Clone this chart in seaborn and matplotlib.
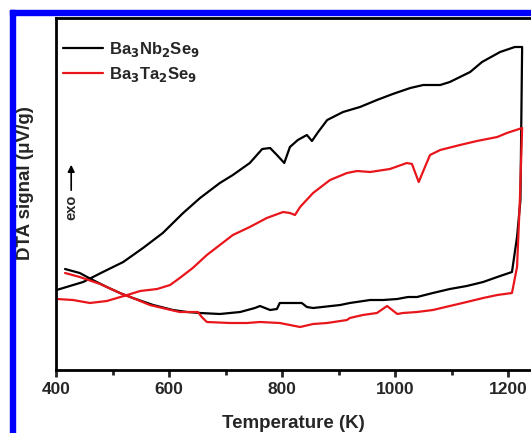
import numpy as np
import pandas as pd
import matplotlib
matplotlib.use("Agg")
import matplotlib.pyplot as plt
import seaborn as sns
from matplotlib.patches import Rectangle
from matplotlib.ticker import MultipleLocator

sns.set_style("white")
plt.rcParams['font.family'] = ['Liberation Sans', 'DejaVu Sans']
plt.rcParams['font.weight'] = 'bold'

# Ba3Nb2Se9: heating then cooling loop (temperature K, DTA signal arb.)
nb_T = [401, 448, 483, 519, 554, 589, 625, 655, 690, 713, 743, 765, 779, 791, 804, 814,
        828, 844, 853, 864, 880, 908, 938, 968, 996, 1027, 1050, 1080, 1097, 1133, 1154,
        1186, 1212, 1225,
        1222, 1216, 1207,
        1181, 1156, 1127, 1097, 1067, 1039, 1030, 1023, 1004, 979, 956, 920, 903, 855,
        844, 835, 796, 791, 779, 761, 752, 726, 690, 655, 632, 607, 572, 536, 513, 490,
        465, 442, 416]
nb_S = [80, 88, 98, 108, 122, 137, 157, 172, 187, 195, 207, 221, 222, 215, 207, 223,
        230, 235, 229, 238, 250, 258, 263, 270, 276, 282, 285, 285, 288, 298, 308,
        318, 323, 323,
        170, 133, 98,
        93, 88, 84, 81, 77, 73, 73, 73, 71, 70, 70, 67, 65, 62,
        63, 67, 67, 61, 60, 64, 62, 58, 56, 57, 58, 60, 65, 72, 77, 83,
        90, 97, 101]

# Ba3Ta2Se9
ta_T = [402, 430, 460, 490, 508, 526, 549, 579, 602, 619, 642, 667, 690, 713, 743, 773,
        802, 814, 823, 832, 855, 885, 915, 933, 956, 991, 1021, 1030, 1042, 1053, 1062,
        1080, 1115, 1145, 1181, 1198, 1225,
        1221, 1216, 1207,
        1181, 1156, 1127, 1097, 1067, 1039, 1014, 1004, 986, 968, 943, 920, 915, 880,
        855, 832, 796, 761, 738, 708, 667, 658, 651, 619, 596, 566, 536, 513, 478, 442, 416]
ta_S = [71, 70, 67, 69, 72, 75, 79, 81, 85, 92, 102, 115, 125, 135, 143, 152,
        158, 157, 155, 163, 177, 190, 197, 199, 198, 201, 207, 206, 188, 203, 215,
        220, 225, 229, 233, 237, 242,
        170, 103, 77,
        75, 72, 68, 64, 60, 58, 57, 56, 64, 57, 55, 52, 50, 47,
        46, 43, 47, 48, 47, 47, 48, 53, 58, 58, 61, 65, 72, 77, 86, 93, 97]

labels = [r"Ba$_\mathbf{3}$Nb$_\mathbf{2}$Se$_\mathbf{9}$",
          r"Ba$_\mathbf{3}$Ta$_\mathbf{2}$Se$_\mathbf{9}$"]
colors = ["#000000", "#e8161b"]

df_nb = pd.DataFrame({"T": nb_T, "S": nb_S})
df_ta = pd.DataFrame({"T": ta_T, "S": ta_S})

fig = plt.figure(figsize=(5.31, 4.33), dpi=100)
ax = fig.add_axes([56/531, 1 - 370/433, 1 - 56/531, (370 - 18)/433])

sns.lineplot(data=df_nb, x="T", y="S", sort=False, estimator=None, color=colors[0],
             lw=1.6, ax=ax, label=labels[0])
sns.lineplot(data=df_ta, x="T", y="S", sort=False, estimator=None, color=colors[1],
             lw=1.6, ax=ax, label=labels[1])

ax.set_xlim(400, 1240.7)
ax.set_ylim(0, 352)
ax.set_yticks([])
ax.xaxis.set_major_locator(MultipleLocator(200))
ax.xaxis.set_minor_locator(MultipleLocator(100))
ax.tick_params(axis='x', which='major', direction='out', length=5, width=2,
               labelsize=12.5, pad=4, bottom=True)
ax.tick_params(axis='x', which='minor', direction='out', length=3.5, width=2, bottom=True)
for lab in ax.get_xticklabels():
    lab.set_fontweight('bold')

for side in ['left', 'bottom', 'top']:
    ax.spines[side].set_visible(True)
    ax.spines[side].set_linewidth(2)
    ax.spines[side].set_color('black')
ax.spines['right'].set_visible(False)

ax.set_xlabel("Temperature (K)", fontsize=13.5, fontweight='bold', labelpad=12.5)
ax.set_ylabel("DTA signal (\u03bcV/g)", fontsize=13.5, fontweight='bold')
ax.yaxis.set_label_coords(-0.046, 0.53)

leg = ax.legend(loc='upper left', frameon=False, fontsize=12, handlelength=2.4,
                handletextpad=0.4, borderaxespad=0.0, labelspacing=0.35,
                bbox_to_anchor=(0.0, 0.957))
for t in leg.get_texts():
    t.set_fontweight('bold')

# exo arrow
ax.annotate("", xy=(0.032, (370 - 162) / 352), xytext=(0.032, (370 - 193) / 352),
            xycoords='axes fraction',
            arrowprops=dict(arrowstyle='-|>', color='black', lw=1.2, mutation_scale=10))
ax.text(0.032, (370 - 207) / 352, "exo", rotation=90, ha='center', va='center',
        transform=ax.transAxes, fontsize=10.5, fontweight='bold')

# blue border
fig.patches.append(Rectangle((10/531, 0), 4.5/531, 1 - 10/433, transform=fig.transFigure,
                             color='#0000ff', zorder=10))
fig.patches.append(Rectangle((10/531, 1 - 15/433), 1, 5/433, transform=fig.transFigure,
                             color='#0000ff', zorder=10))

fig.savefig("out.png", dpi=100)
